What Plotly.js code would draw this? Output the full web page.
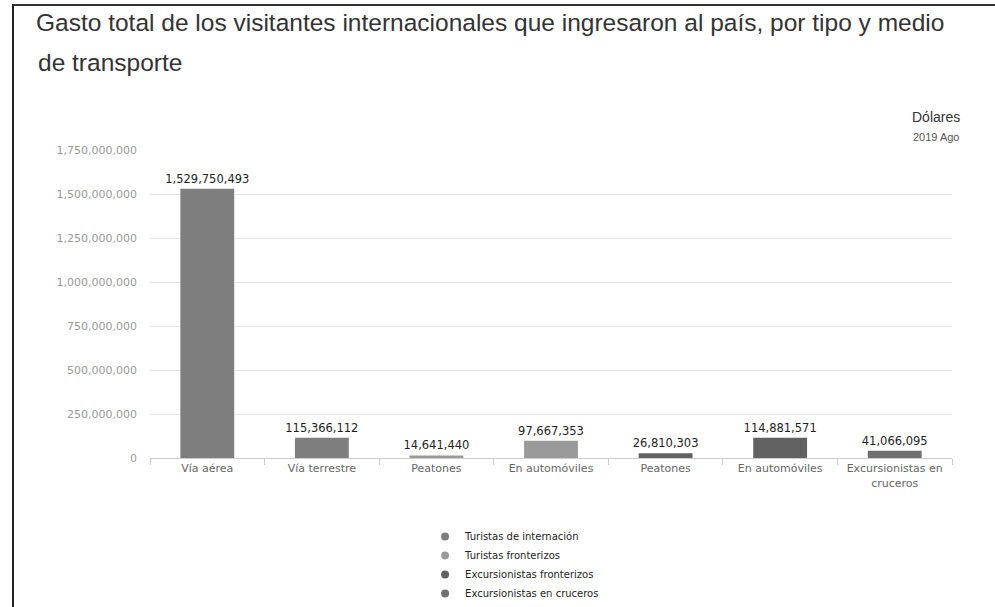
<!DOCTYPE html>
<html>
<head>
<meta charset="utf-8">
<script src="https://cdn.plot.ly/plotly-3.0.1.min.js"></script>
<style>
  html, body { margin: 0; padding: 0; background: #fff; }
  #frame { position: absolute; left: 12px; top: 4px; width: 983px; height: 603px;
           border-left: 2px solid #222; border-top: 2px solid #333; }
  #chart { position: absolute; left: 0; top: 0; width: 995px; height: 607px; }
</style>
</head>
<body>
<div id="frame"></div>
<div id="chart"></div>
<script>
// Category labels (7 positions on the x axis)
const categoryLabels = ["Vía aérea", "Vía terrestre", "Peatones", "En automóviles",
                        "Peatones", "En automóviles", "Excursionistas en<br>cruceros"];

// Series
const seriesNames = ["Turistas de internación", "Turistas fronterizos",
                     "Excursionistas fronterizos", "Excursionistas en cruceros"];
const internacionPos = [0, 1];
const internacionVal = [1529750493, 115366112];
const fronterizosPos = [2, 3];
const fronterizosVal = [14641440, 97667353];
const excFronterizosPos = [4, 5];
const excFronterizosVal = [26810303, 114881571];
const crucerosPos = [6];
const crucerosVal = [41066095];

const yTicks = [0, 250000000, 500000000, 750000000, 1000000000, 1250000000, 1500000000, 1750000000];

const colors = ["#7e7e7e", "#9a9a9a", "#626262", "#6f6f6f"];
const posSets = [internacionPos, fronterizosPos, excFronterizosPos, crucerosPos];
const valSets = [internacionVal, fronterizosVal, excFronterizosVal, crucerosVal];

const traces = [];
for (let i = 0; i < 4; i++) {
  traces.push({
    type: "bar",
    x: posSets[i],
    y: valSets[i],
    name: seriesNames[i],
    width: 0.47,
    marker: { color: colors[i], line: { width: 0 } },
    text: valSets[i].map(v => v.toLocaleString("en-US")),
    textposition: "outside",
    constraintext: "none",
    cliponaxis: false,
    textfont: { family: "DejaVu Sans", size: 11.5, color: "#1e1e1e" },
    showlegend: false,
    legendgroup: "g" + i,
    hoverinfo: "x+y"
  });
}
// legend entries with round symbols
for (let i = 0; i < 4; i++) {
  traces.push({
    type: "scatter",
    mode: "markers",
    x: [null], y: [null],
    name: seriesNames[i],
    legendgroup: "g" + i,
    marker: { color: colors[i], size: 8, symbol: "circle" },
    showlegend: true
  });
}

const layout = {
  width: 995, height: 607,
  paper_bgcolor: "rgba(0,0,0,0)",
  plot_bgcolor: "rgba(0,0,0,0)",
  margin: { l: 150, r: 43, t: 150, b: 149 },
  barmode: "overlay",
  separators: ".,",
  title: {
    text: "Gasto total de los visitantes internacionales que ingresaron al país, por tipo y medio",
    x: 36 / 995, xref: "container", xanchor: "left",
    y: 1 - 22 / 607, yref: "container", yanchor: "middle",
    font: { family: "Liberation Sans, Arial", size: 24.5, color: "#333" }
  },
  annotations: [
    { text: "de transporte", xref: "paper", yref: "paper", x: -0.1421, y: 1.2857,
      xanchor: "left", yanchor: "middle", showarrow: false,
      font: { family: "Liberation Sans, Arial", size: 24.5, color: "#333" } },
    { text: "Dólares", xref: "paper", yref: "paper", x: 1.013, y: 1.107,
      xanchor: "right", yanchor: "middle", showarrow: false,
      font: { family: "Liberation Sans, Arial", size: 14, color: "#333" } },
    { text: "2019 Ago", xref: "paper", yref: "paper", x: 1.013, y: 1.042,
      xanchor: "right", yanchor: "middle", showarrow: false,
      font: { family: "Liberation Sans, Arial", size: 11, color: "#555" } }
  ],
  xaxis: {
    range: [-0.5, 6.5],
    tickmode: "array",
    tickvals: [0, 1, 2, 3, 4, 5, 6],
    ticktext: categoryLabels,
    ticks: "",
    showgrid: false,
    showline: true, linecolor: "#cccccc", linewidth: 1,
    zeroline: false,
    tickfont: { family: "DejaVu Sans", size: 11, color: "#666" },
    minor: { tickmode: "linear", tick0: -0.5, dtick: 1, ticks: "outside", ticklen: 6, tickcolor: "#ccc", showgrid: false },
    fixedrange: true
  },
  yaxis: {
    range: [0, 1750000000],
    tickmode: "array",
    tickvals: yTicks,
    tickformat: ",d",
    showgrid: true, gridcolor: "#e6e6e6", gridwidth: 1,
    zeroline: false,
    showline: false,
    ticks: "",
    ticklabelstandoff: 12,
    tickfont: { family: "DejaVu Sans", size: 11, color: "#999" },
    fixedrange: true
  },
  legend: {
    orientation: "v",
    x: 0.343, xanchor: "left",
    yref: "container",
    y: 1 - 522 / 607, yanchor: "top",
    font: { family: "DejaVu Sans", size: 10, color: "#222" },
    itemwidth: 30,
    tracegroupgap: 0,
    bgcolor: "rgba(0,0,0,0)"
  },
  showlegend: true
};

Plotly.newPlot("chart", traces, layout, { displayModeBar: false, staticPlot: true });
</script>
</body>
</html>
